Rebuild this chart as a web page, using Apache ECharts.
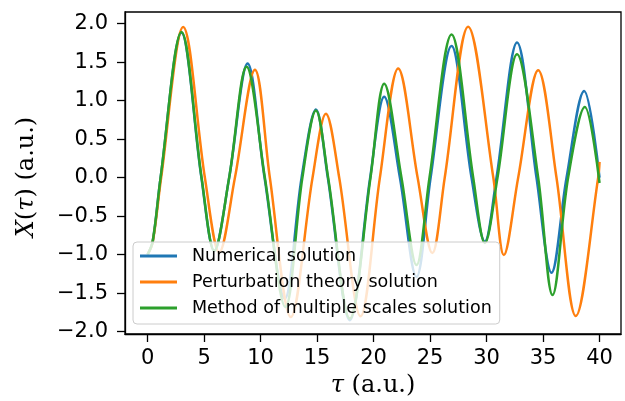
<!DOCTYPE html>
<html>
<head>
<meta charset="utf-8">
<script src="https://cdn.jsdelivr.net/npm/echarts@6/dist/echarts.min.js"></script>
<style>
html,body{margin:0;padding:0;background:#fff;}
#chart{width:625px;height:401px;}
</style>
</head>
<body>
<div id="chart"></div>
<script>
// Tick values
var xTicks = [0, 5, 10, 15, 20, 25, 30, 35, 40];
var yTicks = [-2.0, -1.5, -1.0, -0.5, 0.0, 0.5, 1.0, 1.5, 2.0];

// Series names
var seriesNames = ['Numerical solution', 'Perturbation theory solution', 'Method of multiple scales solution'];

// Numerical solution: [tau, X] (extrema and zero crossings)
var numerical = [
  [0, -1.0], [0.45, -0.83], [1.15, 0], [3.0, 1.88], [4.76, 0], [5.9, -0.95], [7.22, 0],
  [8.85, 1.48], [10.35, 0], [12.15, -1.57], [13.63, 0], [14.9, 0.885], [15.95, 0],
  [17.9, -1.85], [19.7, 0], [20.94, 1.05], [22.33, 0], [23.8, -1.29], [25.05, 0],
  [26.9, 1.71], [28.67, 0], [29.85, -0.83], [30.88, 0], [32.7, 1.753], [34.42, 0],
  [35.75, -1.235], [37.08, 0], [38.64, 1.126], [40, 0.0]
];

// Perturbation theory solution
var perturbation = [
  [0, -1.0], [0.45, -0.84], [1.2, 0], [3.15, 1.956], [5.07, 0], [6.34, -0.97], [7.73, 0],
  [9.5, 1.40], [10.82, 0], [12.68, -1.81], [14.6, 0], [15.78, 0.83], [16.96, 0],
  [18.85, -1.80], [20.56, 0], [22.18, 1.416], [23.9, 0], [25.2, -0.98], [26.3, 0],
  [28.37, 1.96], [30.6, 0], [31.53, -1.005], [32.8, 0], [34.57, 1.394], [36.19, 0],
  [37.9, -1.796], [39.88, 0], [40, 0.205]
];

// Method of multiple scales solution
var multipleScales = [
  [0, -1.0], [0.45, -0.83], [1.15, 0], [3.0, 1.89], [4.78, 0], [5.9, -0.95], [7.22, 0],
  [8.76, 1.44], [10.38, 0], [12.2, -1.68], [13.7, 0], [14.9, 0.87], [15.98, 0],
  [17.9, -1.83], [19.73, 0], [20.94, 1.22], [22.47, 0], [23.8, -1.135], [24.95, 0],
  [26.9, 1.857], [28.82, 0], [29.85, -0.85], [30.97, 0], [32.7, 1.60], [34.57, 0],
  [35.84, -1.524], [37.22, 0], [38.7, 0.918], [40, -0.07]
];

var colors = ['#1f77b4', '#ff7f0e', '#2ca02c'];

function fmt(v) {
  var s = Math.abs(v).toFixed(1);
  return (v < -1e-9 ? '\u2212' : '') + s;
}

var chart = echarts.init(document.getElementById('chart'), null, {renderer: 'canvas'});

function mkSeries(name, data, color) {
  return {
    name: name,
    type: 'line',
    data: data,
    smooth: 0.35,
    symbol: 'none',
    showSymbol: false,
    animation: false,
    lineStyle: {color: color, width: 2.5},
    itemStyle: {color: color}
  };
}

chart.setOption({
  animation: false,
  backgroundColor: '#fff',
  grid: {
    left: 125, right: 4, top: 12, bottom: 67,
    show: true, borderColor: '#000', borderWidth: 1.3,
    containLabel: false, outerBoundsMode: 'none'
  },
  xAxis: {
    type: 'value',
    min: -2, max: 41.9,
    axisLine: {show: true, onZero: false, lineStyle: {color: '#000', width: 1.3}},
    axisTick: {show: true, length: 8, inside: false, customValues: xTicks, lineStyle: {color: '#000', width: 1.3}},
    axisLabel: {
      customValues: xTicks, margin: 14, color: '#000',
      fontFamily: 'DejaVu Sans', fontSize: 21,
      formatter: function (v) { return String(v); }
    },
    splitLine: {show: false},
    name: '{i|\u03c4} (a.u.)',
    nameLocation: 'middle',
    nameGap: 35,
    nameTextStyle: {
      fontFamily: 'DejaVu Serif', fontSize: 24, color: '#000',
      rich: {i: {fontFamily: 'DejaVu Serif', fontStyle: 'italic', fontSize: 24, color: '#000'}}
    }
  },
  yAxis: {
    type: 'value',
    min: -2.03, max: 2.15,
    axisLine: {show: true, onZero: false, lineStyle: {color: '#000', width: 1.3}},
    axisTick: {show: true, length: 8, inside: false, customValues: yTicks, lineStyle: {color: '#000', width: 1.3}},
    axisLabel: {
      customValues: yTicks, margin: 17, color: '#000',
      fontFamily: 'DejaVu Sans', fontSize: 21,
      formatter: fmt
    },
    splitLine: {show: false},
    name: '{i|X}({i|\u03c4}) (a.u.)',
    nameLocation: 'middle',
    nameRotate: 90,
    nameGap: 86,
    nameTextStyle: {
      fontFamily: 'DejaVu Serif', fontSize: 24, color: '#000',
      padding: [0, 8, 0, 0],
      rich: {i: {fontFamily: 'DejaVu Serif', fontStyle: 'italic', fontSize: 24, color: '#000'}}
    }
  },
  legend: {
    show: true,
    orient: 'vertical',
    left: 133, top: 242,
    padding: [5, 8, 7, 7],
    itemGap: 8,
    itemWidth: 37,
    itemHeight: 3,
    icon: 'rect',
    backgroundColor: 'rgba(255,255,255,0.8)',
    borderColor: '#cccccc',
    borderWidth: 1,
    borderRadius: 4,
    textStyle: {fontFamily: 'DejaVu Sans', fontSize: 17.5, color: '#000', padding: [0, 0, 0, 10]},
    data: seriesNames
  },
  series: [
    mkSeries(seriesNames[0], numerical, colors[0]),
    mkSeries(seriesNames[1], perturbation, colors[1]),
    mkSeries(seriesNames[2], multipleScales, colors[2])
  ]
});
</script>
</body>
</html>
